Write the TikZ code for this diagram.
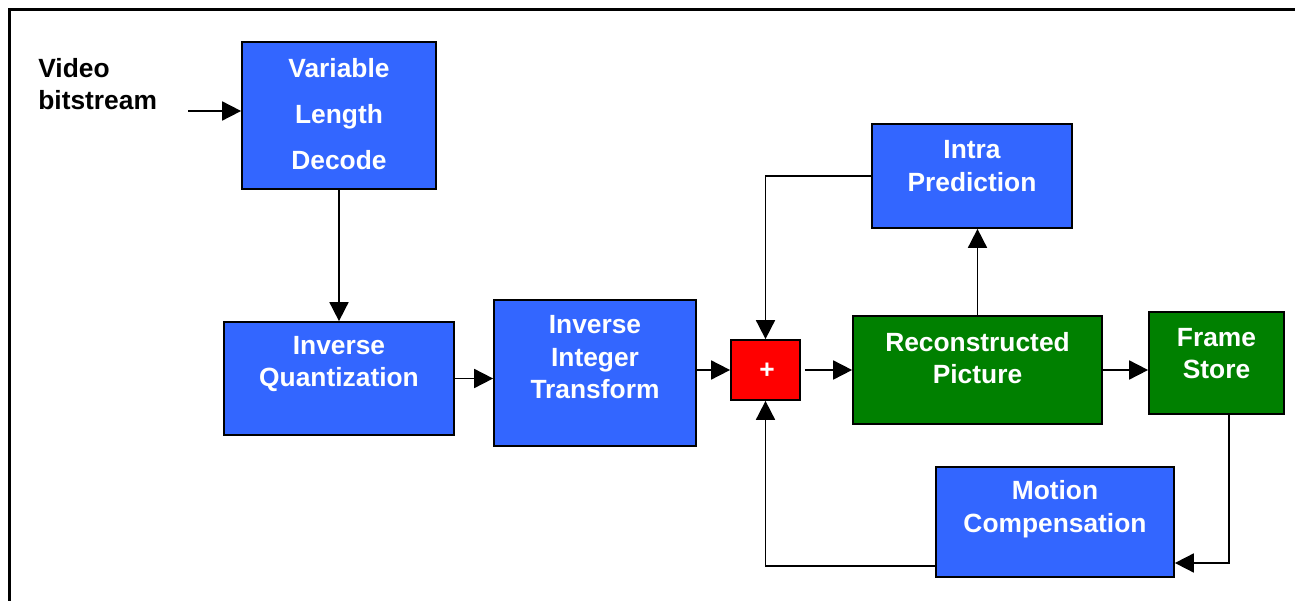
\documentclass[tikz,border=0pt]{standalone}
\usepackage{fontspec}
\setmainfont{Liberation Sans}
\usetikzlibrary{arrows.meta}
\definecolor{boxblue}{RGB}{51,102,255}
\definecolor{boxgreen}{RGB}{0,128,0}
\definecolor{boxred}{RGB}{255,0,0}

\begin{document}
\begin{tikzpicture}[>={Triangle[length=0.38cm,width=0.38cm]},x=0.02cm,y=-0.02cm,
    blk/.style={draw,line width=1pt,fill=boxblue},
    grn/.style={draw,line width=1pt,fill=boxgreen},
    lbl/.style={text=white,align=center,inner sep=0pt,font=\bfseries\fontsize{15}{18.5}\selectfont},
    con/.style={line width=1pt}]
    \useasboundingbox (0,0) rectangle (1295,601);
    \draw[line width=1.7pt] (1295,9.5) -- (9.5,9.5) -- (9.5,601);

    % boxes
    \node[blk,minimum width=3.88cm,minimum height=2.94cm] (VLD) at (339,115.5) {};
    \node[blk,minimum width=4.6cm,minimum height=2.26cm]  (IQ)  at (339,378.5) {};
    \node[blk,minimum width=4.04cm,minimum height=2.92cm] (IIT) at (595,373)   {};
    \node[draw,line width=1pt,fill=boxred,minimum width=1.38cm,minimum height=1.2cm] (SUM) at (765.5,370) {};
    \node[grn,minimum width=4.98cm,minimum height=2.16cm] (RP)  at (977.5,370) {};
    \node[grn,minimum width=2.7cm,minimum height=2.04cm]  (FS)  at (1216.5,363) {};
    \node[blk,minimum width=4cm,minimum height=2.08cm]    (IP)  at (972,176)   {};
    \node[blk,minimum width=4.76cm,minimum height=2.2cm]  (MC)  at (1055,522)  {};

    % texts
    \node[lbl,font=\bfseries\fontsize{15}{26}\selectfont] (VLDt) at (339,114) {Variable\\Length\\Decode};
    \node[lbl] (IQt)  at (339,364)    {Inverse\\Quantization};
    \node[lbl] (IITt) at (595,357.5)  {Inverse\\Integer\\Transform};
    \node[lbl] (SUMt) at (767,371)    {+};
    \node[lbl] (RPt)  at (977.5,358)  {Reconstructed\\Picture};
    \node[lbl] (FSt)  at (1216.5,353.5) {Frame\\Store};
    \node[lbl] (IPt)  at (972,166)    {Intra\\Prediction};
    \node[lbl] (MCt)  at (1055,509)   {Motion\\Compensation};
    \node[lbl,text=black,align=left,anchor=west] (VB) at (38,84) {Video\\bitstream};

    \coordinate (in) at (188,111);

    % connections
    \path[->,con] (in) edge (in -| VLD.west)
        (VLD) edge (IQ)
        (IQ.east) edge (IQ.east -| IIT.west)
        (IIT.east |- SUM) edge (SUM.west)
        ([xshift=0.08cm]SUM.east) edge (RP.west)
        (RP.east) edge (RP.east -| FS.west)
        (RP.north) edge (RP.north |- IP.south);
    \draw[->,con] (IP.west) -| (SUM.north);
    \draw[->,con] ([xshift=0.25cm]FS.south) |- ([yshift=-0.82cm]MC.east);
    \draw[->,con] ([yshift=-0.88cm]MC.west) -| (SUM.south);
\end{tikzpicture}
\end{document}
